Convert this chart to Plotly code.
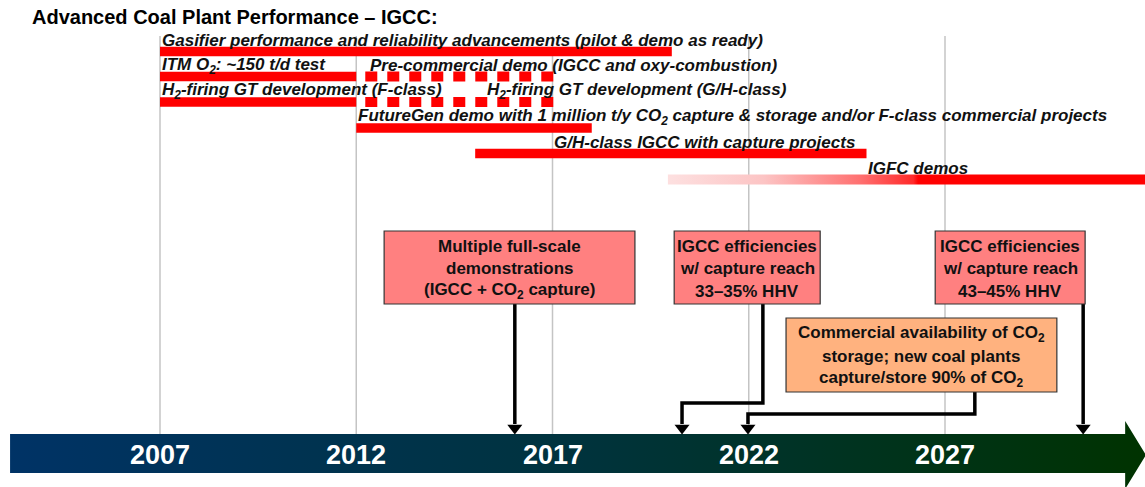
import plotly.graph_objects as go

# ---------------- data ----------------
title = "Advanced Coal Plant Performance – IGCC:"
grid_years = [2007, 2012, 2017, 2022, 2027]
year_labels = ["2007", "2012", "2017", "2022", "2027"]

row_y = [51.5, 76.5, 102, 128, 153.5, 179.5]

# solid red bars: (start, end, row)
bar_start = [2007.0, 2007.0, 2007.0, 2012.0, 2015.03]
bar_end = [2020.04, 2012.0, 2012.0, 2018.0, 2025.0]
bar_row = [0, 1, 2, 3, 4]

# dashed bars
dash_start = [2012.23, 2012.23]
dash_end = [2017.05, 2017.05]
dash_row = [1, 2]

# gradient bar (IGFC)
grad_start = 2019.94
grad_end = 2032.2
grad_row = 5

# bar labels
label_text = [
    "Gasifier performance and reliability advancements (pilot &amp; demo as ready)",
    "ITM O<sub>2</sub>: ~150 t/d test",
    "Pre-commercial demo (IGCC and oxy-combustion)",
    "H<sub>2</sub>-firing GT development (F-class)",
    "H<sub>2</sub>-firing GT development (G/H-class)",
    "FutureGen demo with 1 million t/y CO<sub>2</sub> capture &amp; storage and/or F-class commercial projects",
    "G/H-class IGCC with capture projects",
    "IGFC demos",
]
label_x = [2007.02, 2007.02, 2012.33, 2007.02, 2015.3, 2012.02, 2017.0, 2025.0]
label_row = [0, 1, 1, 2, 2, 3, 4, 5]

# milestone boxes
box_x0 = [2012.71, 2020.10, 2026.75, 2022.95]
box_x1 = [2019.10, 2023.82, 2030.57, 2029.85]
box_y0 = [231, 231, 231, 318]
box_y1 = [304, 304, 304, 392]
box_fill = ["#ff8080", "#ff8080", "#ff8080", "#ffb27f"]
box_lines = [
    ["Multiple full-scale", "demonstrations", "(IGCC + CO<sub>2</sub> capture)"],
    ["IGCC efficiencies", "w/ capture reach", "33–35% HHV"],
    ["IGCC efficiencies", "w/ capture reach", "43–45% HHV"],
    ["Commercial availability of CO<sub>2</sub>", "storage; new coal plants", "capture/store 90% of CO<sub>2</sub>"],
]

# connector arrows (x in years, y in layout px)
arrow_x = [
    [2016.04, 2016.04],
    [2022.36, 2022.36, 2020.30, 2020.30],
    [2027.76, 2027.76, 2021.98, 2021.98],
    [2030.52, 2030.52],
]
arrow_y = [
    [304, 424],
    [304, 403, 403, 424],
    [392, 414, 414, 424],
    [304, 424],
]

# timeline band
band_x = [2003.18, 2031.59, 2031.59, 2032.12, 2031.59, 2031.59, 2003.18, 2003.18]
band_y = [434, 434, 421, 455, 489, 473, 473, 434]

# ---------------- figure ----------------
X0 = 2007 - 160 / 39.25
X1 = 2007 + 985 / 39.25
FONT = "Liberation Sans, Arial, sans-serif"

fig = go.Figure()

# gridlines
for gx in grid_years:
    fig.add_trace(go.Scatter(x=[gx, gx], y=[36, 434], mode="lines",
                             line=dict(color="#c4c4c4", width=1.5),
                             hoverinfo="skip", showlegend=False))

# solid bars
for s, e, r in zip(bar_start, bar_end, bar_row):
    fig.add_trace(go.Scatter(x=[s, e], y=[row_y[r], row_y[r]], mode="lines",
                             line=dict(color="#ff0000", width=9.5),
                             hoverinfo="skip", showlegend=False))
# dashed bars
for s, e, r in zip(dash_start, dash_end, dash_row):
    fig.add_trace(go.Scatter(x=[s, e], y=[row_y[r], row_y[r]], mode="lines",
                             line=dict(color="#ff0000", width=10, dash="12px,10px"),
                             hoverinfo="skip", showlegend=False))
# gradient bar
gy = row_y[grad_row]
fig.add_trace(go.Scatter(
    x=[grad_start, grad_end, grad_end, grad_start, grad_start],
    y=[gy - 5, gy - 5, gy + 5, gy + 5, gy - 5],
    mode="lines", line=dict(width=0), fill="toself",
    fillgradient=dict(type="horizontal",
                      colorscale=[[0, "#fde0e0"], [0.2, "#fcc4c4"], [0.4, "#ff7070"],
                                  [0.51, "#ff2a2a"], [0.52, "#ff0000"], [1, "#ff0000"]]),
    hoverinfo="skip", showlegend=False))

# timeline band
fig.add_trace(go.Scatter(
    x=band_x, y=band_y, mode="lines", line=dict(width=0), fill="toself",
    fillgradient=dict(type="horizontal",
                      colorscale=[[0, "#003366"], [0.5, "#00333d"], [1, "#003300"]]),
    hoverinfo="skip", showlegend=False))

# arrows
for ax_, ay_ in zip(arrow_x, arrow_y):
    fig.add_trace(go.Scatter(x=ax_, y=ay_, mode="lines",
                             line=dict(color="#000000", width=3.5),
                             hoverinfo="skip", showlegend=False))
fig.add_trace(go.Scatter(x=[a[-1] for a in arrow_x], y=[428] * len(arrow_x), mode="markers",
                         marker=dict(symbol="triangle-down", size=13, color="#000000",
                                     line=dict(width=0)),
                         hoverinfo="skip", showlegend=False))

shapes = []
annotations = []
# boxes
for x0, x1, y0, y1, fc, lines in zip(box_x0, box_x1, box_y0, box_y1, box_fill, box_lines):
    shapes.append(dict(type="rect", xref="x", yref="y", x0=x0, x1=x1, y0=y0, y1=y1,
                       fillcolor=fc, line=dict(color="#333333", width=1.2), layer="above"))
    cy = (y0 + y1) / 2
    n = len(lines)
    for i, t in enumerate(lines):
        annotations.append(dict(x=(x0 + x1) / 2, y=cy + (i - (n - 1) / 2) * 22.5 + 1, xref="x", yref="y",
                                text="<b>" + t + "</b>", showarrow=False,
                                xanchor="center", yanchor="middle",
                                font=dict(family=FONT, size=17, color="#111111")))

# bar labels
for t, lx, r in zip(label_text, label_x, label_row):
    annotations.append(dict(x=lx, y=row_y[r] - 11, xref="x", yref="y",
                            text="<b><i>" + t + "</i></b>", showarrow=False,
                            xanchor="left", yanchor="middle", borderpad=0,
                            font=dict(family=FONT, size=17, color="#111111")))

# year labels
for gx, lab in zip(grid_years, year_labels):
    annotations.append(dict(x=gx, y=455, xref="x", yref="y", text="<b>" + lab + "</b>",
                            showarrow=False, xanchor="center", yanchor="middle",
                            font=dict(family=FONT, size=27, color="#ffffff")))

# title
annotations.append(dict(x=0.026, y=17, xref="paper", yref="y", text="<b>" + title + "</b>",
                        showarrow=False, xanchor="left", yanchor="middle",
                        font=dict(family=FONT, size=20, color="#000000")))

fig.update_layout(
    width=1145, height=487,
    margin=dict(l=0, r=0, t=0, b=0),
    paper_bgcolor="white", plot_bgcolor="white",
    xaxis=dict(range=[X0, X1], visible=False, fixedrange=True),
    yaxis=dict(range=[487, 0], visible=False, fixedrange=True),
    shapes=shapes, annotations=annotations, showlegend=False,
)

fig.write_html("out.html", config={"displayModeBar": False},
               post_script="document.body.style.margin='0';document.body.style.overflow='hidden';")
